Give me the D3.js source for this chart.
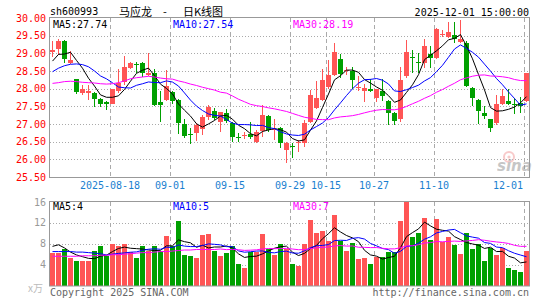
<!DOCTYPE html>
<html>
<head>
<meta charset="utf-8">
<script src="https://cdn.jsdelivr.net/npm/d3@7"></script>
<style>
  body { margin: 0; background: #fff; }
  svg { display: block; }
  text { font-family: "DejaVu Sans Mono", monospace; font-size: 10px; }
</style>
</head>
<body>
<div id="chart"></div>
<script>
// trading days shown (month-day), 2025-08-04 .. 2025-12-01
var tradeDates = [
  '08-04','08-05','08-06','08-07','08-08','08-11','08-12','08-13','08-14','08-15',
  '08-18','08-19','08-20','08-21','08-22','08-25','08-26','08-27','08-28','08-29',
  '09-01','09-02','09-03','09-04','09-05','09-08','09-09','09-10','09-11','09-12',
  '09-15','09-16','09-17','09-18','09-19','09-22','09-23','09-24','09-25','09-26',
  '09-29','09-30','10-09','10-10','10-13','10-14','10-15','10-16','10-17','10-20',
  '10-21','10-22','10-23','10-24','10-27','10-28','10-29','10-30','10-31','11-03',
  '11-04','11-05','11-06','11-07','11-10','11-11','11-12','11-13','11-14','11-17',
  '11-18','11-19','11-20','11-21','11-24','11-25','11-26','11-27','11-28','12-01'
]

var opens = [
  29.05, 29.11, 29.35, 28.72, 28.27, 27.88, 27.89, 27.88, 27.71, 27.63,
  27.58, 27.94, 28.18, 28.59, 28.70, 28.73, 28.38, 28.44, 27.61, 27.67,
  27.90, 27.69, 27.00, 26.73, 26.74, 26.87, 27.21, 27.37, 27.07, 27.32,
  27.02, 26.64, 26.65, 26.72, 26.50, 26.80, 27.23, 26.84, 26.90, 26.26,
  26.38, 26.45, 26.46, 27.06, 27.45, 27.68, 28.05, 28.39, 28.85, 28.50,
  28.50, 28.04, 27.94, 28.00, 27.75, 27.92, 27.66, 27.31, 27.15, 28.35,
  28.89, 28.75, 28.72, 28.99, 28.88, 29.52, 29.47, 29.52, 29.33, 29.30,
  28.01, 27.68, 27.32, 27.14, 27.02, 27.57, 27.66, 27.58, 27.60, 27.64
]
var closes = [
  29.10, 29.35, 28.83, 28.81, 27.91, 27.99, 27.94, 27.72, 27.56, 27.57,
  27.99, 28.15, 28.62, 28.73, 28.68, 28.43, 28.45, 27.55, 27.53, 28.07,
  27.66, 27.02, 26.67, 26.70, 26.98, 27.19, 27.47, 27.16, 27.33, 27.08,
  26.64, 26.61, 26.68, 26.62, 26.78, 27.25, 26.83, 26.87, 26.45, 26.45,
  26.34, 26.48, 27.04, 27.83, 27.74, 28.25, 28.38, 29.05, 28.42, 28.53,
  28.25, 28.06, 28.03, 27.92, 27.98, 27.78, 27.30, 27.09, 28.25, 29.05,
  28.86, 28.73, 29.22, 28.87, 29.68, 29.56, 29.59, 29.41, 29.41, 28.07,
  27.75, 27.36, 27.24, 26.90, 27.57, 27.80, 27.57, 27.56, 27.50, 28.44
]
var highs = [
  29.35, 29.40, 29.38, 29.07, 28.28, 28.10, 28.10, 27.90, 27.75, 27.66,
  28.00, 28.55, 28.92, 28.76, 28.76, 28.76, 29.00, 28.55, 27.92, 28.52,
  27.93, 27.72, 27.14, 26.89, 27.02, 27.26, 27.55, 27.45, 27.35, 27.42,
  27.05, 26.74, 26.78, 27.07, 26.83, 27.54, 27.25, 27.14, 26.92, 26.48,
  26.45, 26.55, 27.12, 27.96, 28.22, 28.56, 28.80, 29.28, 28.97, 28.60,
  28.62, 28.35, 28.13, 28.28, 27.99, 28.28, 27.68, 27.33, 28.62, 29.38,
  29.10, 29.02, 29.40, 29.20, 29.72, 29.66, 29.90, 29.88, 29.94, 29.35,
  28.05, 27.70, 27.50, 27.15, 27.82, 28.00, 27.98, 27.75, 27.76, 28.45
]
var lows = [
  28.90, 28.95, 28.72, 28.70, 27.85, 27.82, 27.68, 27.49, 27.49, 27.39,
  27.56, 27.88, 28.10, 28.55, 28.43, 28.34, 28.36, 27.52, 27.05, 27.64,
  27.58, 26.72, 26.59, 26.42, 26.53, 26.70, 27.10, 27.10, 26.76, 27.02,
  26.50, 26.50, 26.58, 26.58, 26.45, 26.62, 26.78, 26.55, 26.31, 25.89,
  26.03, 26.22, 26.35, 27.02, 27.42, 27.65, 28.00, 28.35, 28.30, 28.40,
  28.00, 27.93, 27.61, 27.90, 27.61, 27.64, 26.98, 26.98, 27.05, 28.30,
  28.45, 28.45, 28.58, 28.58, 28.85, 29.45, 29.42, 29.30, 29.30, 28.05,
  27.52, 26.99, 27.14, 26.78, 26.97, 27.55, 27.55, 27.28, 27.30, 27.62
]
// volume, 10k lots
var volumes = [
  6.3, 6.2, 7.0, 5.2, 4.6, 4.6, 4.6, 6.7, 7.6, 5.6,
  8.0, 7.6, 8.0, 6.5, 5.2, 7.6, 6.7, 7.5, 6.7, 9.5,
  7.6, 12.4, 5.8, 5.6, 5.2, 9.6, 9.8, 6.7, 5.6, 6.2,
  7.6, 4.2, 3.3, 6.5, 6.5, 9.8, 7.0, 5.9, 8.0, 7.0,
  4.1, 3.7, 8.0, 12.6, 10.0, 10.5, 8.6, 13.6, 8.6, 6.6,
  8.2, 5.0, 5.3, 4.2, 5.4, 5.4, 6.5, 6.5, 12.4, 16.0,
  9.3, 10.0, 13.0, 8.8, 12.8, 8.3, 9.2, 7.7, 6.0, 10.0,
  6.9, 8.0, 4.6, 7.2, 5.8, 7.1, 3.3, 2.9, 2.6, 6.7
]

var ma5Head = [28.78, 28.97, 28.98, 29.03]
var ma10Head = [28.48, 28.58, 28.65, 28.69, 28.70, 28.68, 28.62, 28.50, 28.36]
var ma30Head = [
  28.15, 28.17, 28.20, 28.21, 28.20, 28.18, 28.17, 28.16, 28.14, 28.13,
  28.14, 28.17, 28.22, 28.28, 28.31, 28.33, 28.35, 28.33, 28.30, 28.28,
  28.27, 28.22, 28.18, 28.13, 28.09, 28.04, 28.00, 27.96, 27.90
]
var volMa5Head = [7.5, 7.8, 7.2, 6.4]
var volMa10Head = [6.5, 6.5, 6.5, 6.5, 6.4, 6.4, 6.3, 6.2, 6.1]
var volMa30Head = [
  5.6, 5.6, 5.6, 5.6, 5.6, 5.7, 5.7, 5.7, 5.8, 5.8,
  5.9, 5.9, 6.0, 6.1, 6.2, 6.3, 6.3, 6.4, 6.5, 6.5,
  6.6, 6.7, 6.8, 6.8, 6.9, 6.9, 6.9, 6.9, 7.0
]

var priceTicks = [30, 29.5, 29, 28.5, 28, 27.5, 27, 26.5, 26, 25.5]
var volTicks = [16, 12, 8, 4]
var tickDates = ['08-18', '09-01', '09-15', '09-29', '10-15', '10-27', '11-10', '12-01']
var tickLabels = ['2025-08-18', '09-01', '09-15', '09-29', '10-15', '10-27', '11-10', '12-01']

var maNames = ['MA5', 'MA10', 'MA30']
var priceMaText = ['27.74', '27.54', '28.19']
var volMaText = ['4', '5', '7']

var width = 545
var height = 300
var left = 50
var right = 529
var pTop = 18
var pBottom = 177
var vTop = 202
var vBottom = 285.5

var upColor = '#ff5555'
var downColor = '#00a000'
var maColors = ['#000000', '#0000ff', '#ff00ff']
var gridColor = '#aaaaaa'

var x = d3.scaleBand().domain(tradeDates).range([left, right]).paddingInner(1 / 6).paddingOuter(0)
var y = d3.scaleLinear().domain([25.5, 30]).range([pBottom, pTop])
var yv = d3.scaleLinear().domain([0, 16]).range([vBottom, vTop])

function movingAvg (arr, n, head) {
  return arr.map(function (v, i) {
    if (i < n - 1) return head[i]
    return d3.mean(arr.slice(i - n + 1, i + 1))
  })
}

var priceMa = [movingAvg(closes, 5, ma5Head), movingAvg(closes, 10, ma10Head), movingAvg(closes, 30, ma30Head)]
var volMa = [movingAvg(volumes, 5, volMa5Head), movingAvg(volumes, 10, volMa10Head), movingAvg(volumes, 30, volMa30Head)]

var svg = d3.select('#chart').append('svg')
  .attr('width', width)
  .attr('height', height)

svg.append('rect').attr('width', width).attr('height', height).attr('fill', '#fff')

// header
svg.append('text').attr('x', 50).attr('y', 15).attr('fill', '#000').text('sh600993')
var cjk = '"Noto Sans CJK SC", sans-serif'
svg.append('text').attr('x', 119).attr('y', 15.5).attr('fill', '#000')
  .style('font-family', cjk).style('font-size', '11px').text('马应龙')
svg.append('text').attr('x', 163).attr('y', 15.5).attr('fill', '#000')
  .style('font-family', cjk).style('font-size', '11px').text('-')
svg.append('text').attr('x', 183).attr('y', 15.5).attr('fill', '#000')
  .style('font-family', cjk).style('font-size', '11px').text('日K线图')
svg.append('text').attr('x', right).attr('y', 16).attr('text-anchor', 'end').attr('fill', '#000')
  .text('2025-12-01 15:00:00')

// horizontal grid, price panel
svg.append('g').selectAll('line')
  .data(priceTicks.slice(1, -1))
  .join('line')
  .attr('x1', left).attr('x2', right)
  .attr('y1', function (d) { return Math.round(y(d)) + 0.5 })
  .attr('y2', function (d) { return Math.round(y(d)) + 0.5 })
  .attr('stroke', gridColor).attr('stroke-dasharray', '1,2')

// horizontal grid, volume panel
svg.append('g').selectAll('line')
  .data(volTicks.slice(1))
  .join('line')
  .attr('x1', left).attr('x2', right)
  .attr('y1', function (d) { return Math.round(yv(d)) + 0.5 })
  .attr('y2', function (d) { return Math.round(yv(d)) + 0.5 })
  .attr('stroke', gridColor).attr('stroke-dasharray', '1,2')

// vertical dashed grid in both panels
var vg = svg.append('g')
tickDates.forEach(function (d) {
  var gx = Math.round(x(d)) + 0.5
  vg.append('line').attr('x1', gx).attr('x2', gx).attr('y1', pTop).attr('y2', pBottom)
    .attr('stroke', gridColor).attr('stroke-dasharray', '4,3')
  vg.append('line').attr('x1', gx).attr('x2', gx).attr('y1', vTop).attr('y2', vBottom)
    .attr('stroke', gridColor).attr('stroke-dasharray', '4,3')
})

// price axis labels
svg.append('g').selectAll('text')
  .data(priceTicks)
  .join('text')
  .attr('x', 46).attr('y', function (d) { return y(d) + 3.5 })
  .attr('text-anchor', 'end').attr('fill', '#ff0000')
  .text(function (d) { return d.toFixed(2) })

// volume axis labels
svg.append('g').selectAll('text')
  .data(volTicks)
  .join('text')
  .attr('x', 46).attr('y', function (d) { return yv(d) + 3.5 })
  .attr('text-anchor', 'end').attr('fill', '#999')
  .text(function (d) { return d })
svg.append('text').attr('x', 28).attr('y', 292).attr('fill', '#bbb')
  .style('font-family', cjk).style('font-size', '10px')
  .text('x万')

// date labels
svg.append('g').selectAll('text')
  .data(tickDates)
  .join('text')
  .attr('x', function (d, i) {
    var w = tickLabels[i].length * 6.02
    return Math.min(x(d), right - 6 - w / 2)
  })
  .attr('y', 189)
  .attr('text-anchor', 'middle').attr('fill', '#1a7fd0')
  .text(function (d, i) { return tickLabels[i] })

// sina watermark
var wm = svg.append('g').attr('opacity', 0.55)
wm.append('circle').attr('cx', 509).attr('cy', 157).attr('r', 5).attr('fill', 'none').attr('stroke', '#f3a0a0').attr('stroke-width', 2)
wm.append('circle').attr('cx', 509).attr('cy', 157).attr('r', 1.6).attr('fill', '#f3a0a0')
wm.append('text').attr('x', 497).attr('y', 171)
  .style('font-family', '"DejaVu Sans", sans-serif').style('font-size', '15px')
  .style('font-weight', 'bold').style('font-style', 'italic')
  .attr('fill', '#999').text('sina')

var bw = x.bandwidth()
function isUp (i) { return closes[i] >= opens[i] }

// candles
var candles = svg.append('g').attr('shape-rendering', 'crispEdges')
candles.selectAll('rect.wick')
  .data(tradeDates)
  .join('rect')
  .attr('class', 'wick')
  .attr('x', function (d) { return Math.round(x(d)) + 2 })
  .attr('width', 1)
  .attr('y', function (d, i) { return y(highs[i]) })
  .attr('height', function (d, i) { return y(lows[i]) - y(highs[i]) })
  .attr('fill', function (d, i) { return isUp(i) ? upColor : downColor })
candles.selectAll('rect.body')
  .data(tradeDates)
  .join('rect')
  .attr('class', 'body')
  .attr('x', function (d) { return Math.round(x(d)) })
  .attr('width', bw)
  .attr('y', function (d, i) { return y(Math.max(opens[i], closes[i])) })
  .attr('height', function (d, i) { return Math.max(1, Math.abs(y(opens[i]) - y(closes[i]))) })
  .attr('fill', function (d, i) { return isUp(i) ? upColor : downColor })

// volume bars
svg.append('g').attr('shape-rendering', 'crispEdges')
  .selectAll('rect')
  .data(tradeDates)
  .join('rect')
  .attr('x', function (d) { return Math.round(x(d)) })
  .attr('width', bw)
  .attr('y', function (d, i) { return yv(volumes[i]) })
  .attr('height', function (d, i) { return yv(0) - yv(volumes[i]) })
  .attr('fill', function (d, i) { return isUp(i) ? upColor : downColor })

// moving-average lines
var cx = function (i) { return Math.round(x(tradeDates[i])) + 2.5 }
var priceLine = d3.line().x(function (d, i) { return cx(i) }).y(function (d) { return y(d) })
var volLine = d3.line().x(function (d, i) { return cx(i) }).y(function (d) { return yv(d) })
priceMa.forEach(function (s, k) {
  svg.append('path').attr('d', priceLine(s)).attr('fill', 'none').attr('stroke', maColors[k]).attr('stroke-width', 1)
})
volMa.forEach(function (s, k) {
  svg.append('path').attr('d', volLine(s)).attr('fill', 'none').attr('stroke', maColors[k]).attr('stroke-width', 1)
})

// frames
svg.append('rect').attr('x', left - 0.5).attr('y', pTop - 0.5).attr('width', right - left + 1).attr('height', pBottom - pTop + 1)
  .attr('fill', 'none').attr('stroke', '#999')
svg.append('rect').attr('x', left - 0.5).attr('y', vTop - 0.5).attr('width', right - left + 1).attr('height', vBottom - vTop + 1)
  .attr('fill', 'none').attr('stroke', '#999')

// legends
var legendX = [53, 173, 293]
maNames.forEach(function (n, k) {
  svg.append('text').attr('x', legendX[k]).attr('y', 28).attr('fill', maColors[k]).text(n + ':' + priceMaText[k])
  svg.append('text').attr('x', legendX[k]).attr('y', 210).attr('fill', maColors[k]).text(n + ':' + volMaText[k])
})

// footer
svg.append('text').attr('x', 50).attr('y', 296).attr('fill', '#666').text('Copyright 2025 SINA.COM')
svg.append('text').attr('x', right).attr('y', 296).attr('text-anchor', 'end').attr('fill', '#666').text('http://finance.sina.com.cn')
</script>
</body>
</html>
